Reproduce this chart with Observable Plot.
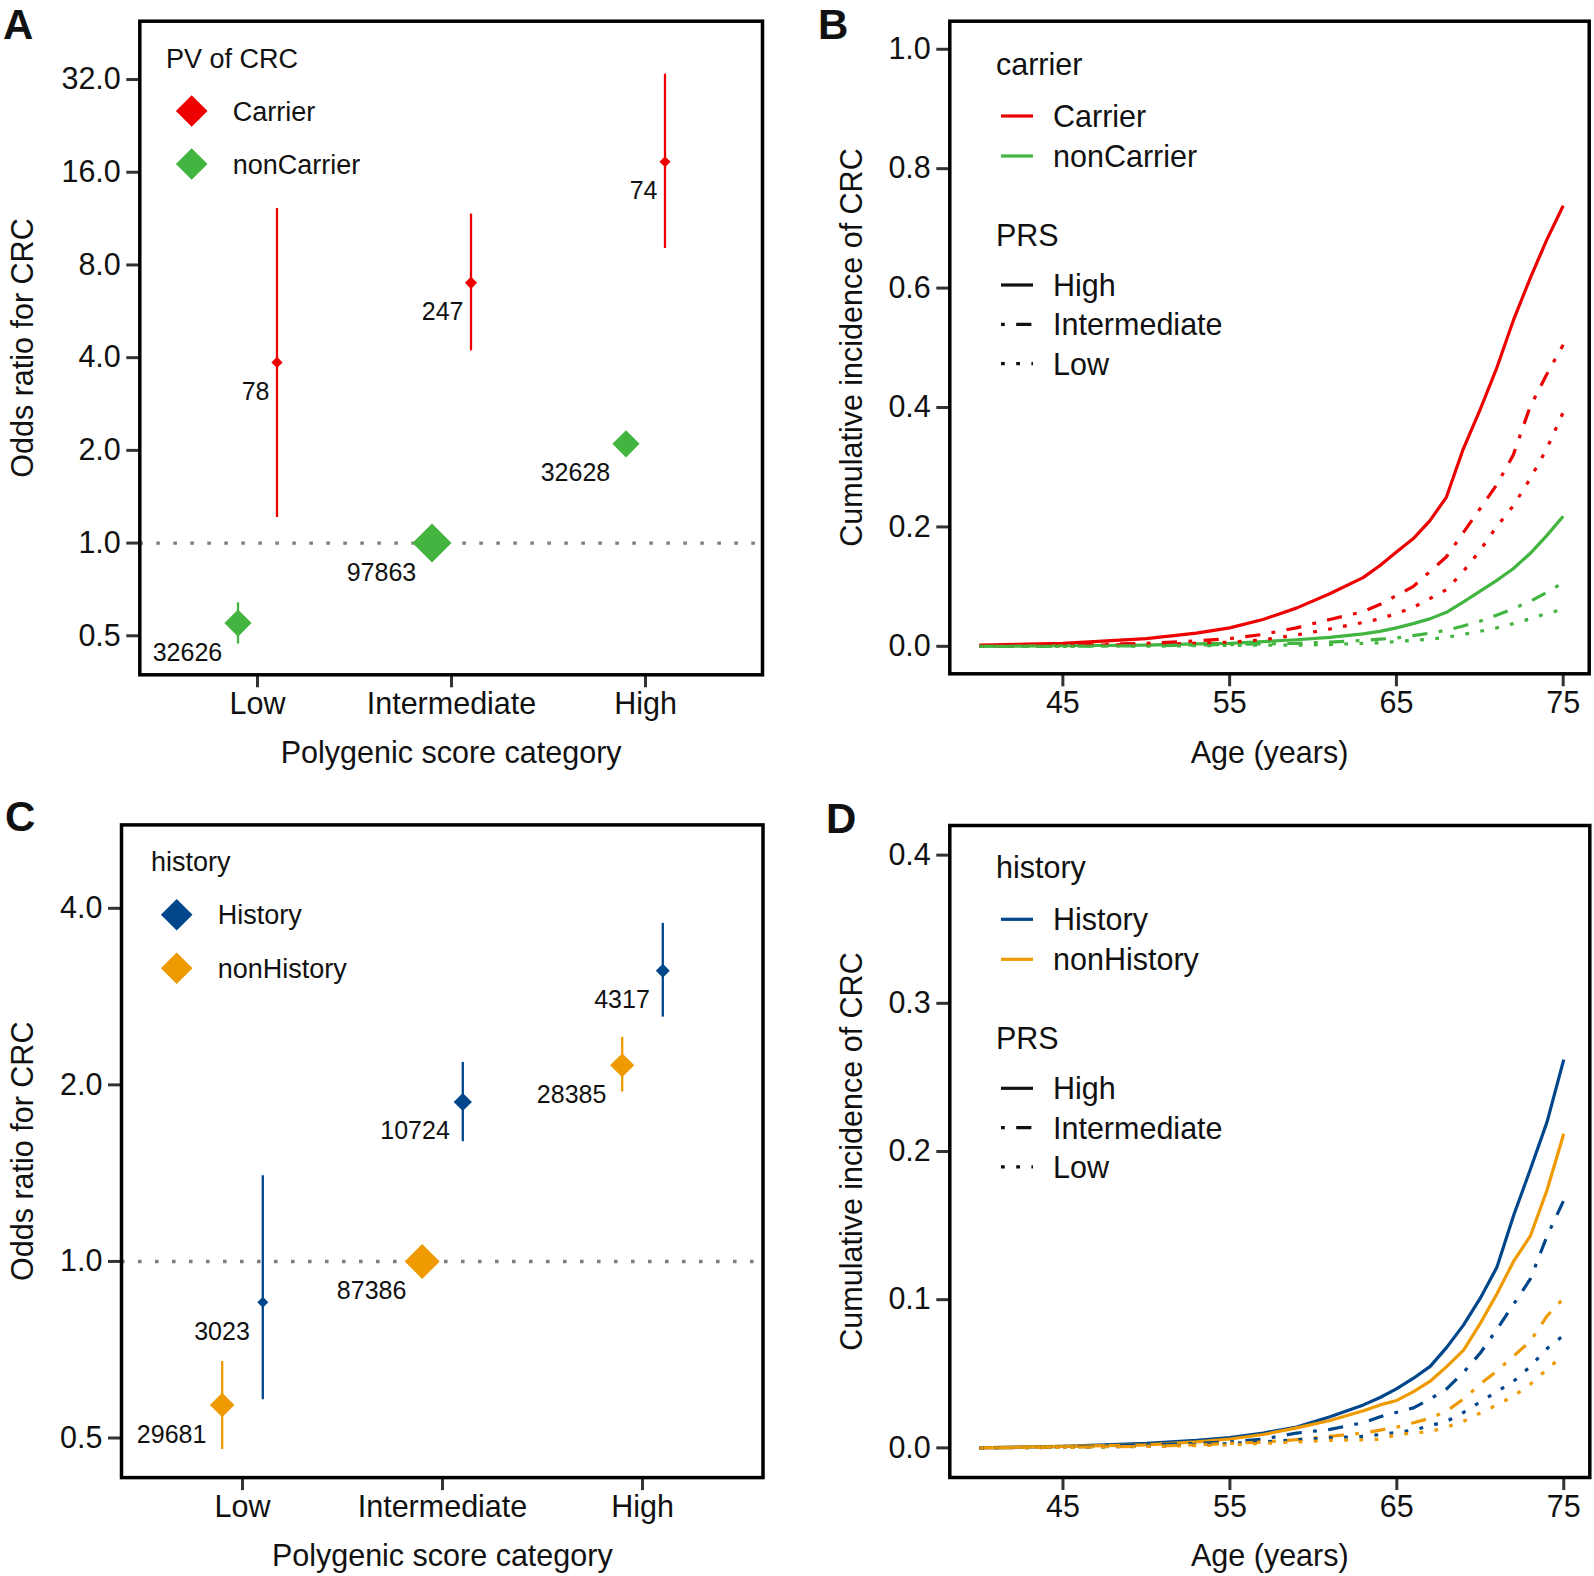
<!DOCTYPE html>
<html>
<head>
<meta charset="utf-8">
<script src="https://cdn.jsdelivr.net/npm/d3@7"></script>
<script src="https://cdn.jsdelivr.net/npm/@observablehq/plot@0.6"></script>
<style>
html, body { margin: 0; padding: 0; background: #fff; }
#page { position: relative; width: 1594px; height: 1576px; font-family: "Liberation Sans", Arial, Helvetica, sans-serif; }
.panel { position: absolute; }
#overlay { position: absolute; left: 0; top: 0; pointer-events: none; }
</style>
</head>
<body>
<div id="page"></div>
<script>
// ---------------- DATA ----------------
const categories = ["Low", "Intermediate", "High"];

// Panel A: odds ratios by PV carrier status
const pvGroups = ["Carrier", "nonCarrier"];
const carrierOR = [3.86, 7.0, 17.3];
const carrierLower = [1.21, 4.21, 9.05];
const carrierUpper = [12.2, 11.7, 33.3];
const carrierN = [78, 247, 74];
const nonCarrierOR = [0.55, 1.0, 2.1];
const nonCarrierLower = [0.47, null, 2.0];
const nonCarrierUpper = [0.64, null, 2.2];
const nonCarrierN = [32626, 97863, 32628];

// Panel C: odds ratios by family history
const historyGroups = ["History", "nonHistory"];
const historyOR = [0.852, 1.87, 3.13];
const historyLower = [0.581, 1.60, 2.61];
const historyUpper = [1.40, 2.185, 3.77];
const historyN = [3023, 10724, 4317];
const nonHistoryOR = [0.569, 1.0, 2.16];
const nonHistoryLower = [0.478, null, 1.945];
const nonHistoryUpper = [0.675, null, 2.41];
const nonHistoryN = [29681, 87386, 28385];

// Panels B and D: cumulative incidence by age
const prsLevels = ["High", "Intermediate", "Low"];
const ages = [40, 45, 50, 53, 55, 57, 59, 61, 63, 64, 65, 66, 67, 68, 69, 70, 71, 72, 73, 74, 75];
const carrierHigh     = [0.002, 0.005, 0.013, 0.022, 0.031, 0.045, 0.064, 0.088, 0.115, 0.135, 0.158, 0.18, 0.21, 0.25, 0.33, 0.395, 0.465, 0.545, 0.615, 0.68, 0.738];
const carrierInter    = [0.001, 0.002, 0.005, 0.009, 0.013, 0.020, 0.031, 0.045, 0.058, 0.070, 0.085, 0.100, 0.125, 0.150, 0.190, 0.230, 0.270, 0.320, 0.400, 0.455, 0.505];
const carrierLow      = [0, 0.001, 0.003, 0.005, 0.007, 0.011, 0.019, 0.029, 0.040, 0.046, 0.055, 0.065, 0.080, 0.095, 0.125, 0.160, 0.200, 0.235, 0.280, 0.330, 0.392];
const nonCarrierHigh  = [0, 0.001, 0.002, 0.004, 0.005, 0.008, 0.011, 0.015, 0.021, 0.025, 0.031, 0.038, 0.046, 0.057, 0.074, 0.092, 0.110, 0.130, 0.155, 0.185, 0.218];
const nonCarrierInter = [0, 0, 0.001, 0.002, 0.003, 0.004, 0.005, 0.007, 0.010, 0.012, 0.014, 0.018, 0.022, 0.027, 0.034, 0.042, 0.052, 0.063, 0.075, 0.090, 0.107];
const nonCarrierLow   = [0, 0, 0.0005, 0.001, 0.0015, 0.002, 0.002, 0.003, 0.005, 0.006, 0.008, 0.010, 0.012, 0.015, 0.020, 0.025, 0.031, 0.038, 0.046, 0.055, 0.062];

const historyHigh     = [0, 0.001, 0.003, 0.005, 0.007, 0.010, 0.014, 0.021, 0.029, 0.034, 0.040, 0.047, 0.055, 0.068, 0.083, 0.101, 0.122, 0.157, 0.188, 0.220, 0.262];
const nonHistoryHigh  = [0, 0.001, 0.002, 0.004, 0.006, 0.009, 0.0135, 0.0185, 0.025, 0.029, 0.032, 0.038, 0.045, 0.055, 0.066, 0.084, 0.104, 0.126, 0.143, 0.174, 0.212];
const historyInter    = [0, 0.0005, 0.002, 0.003, 0.004, 0.006, 0.010, 0.0125, 0.017, 0.021, 0.024, 0.027, 0.033, 0.040, 0.051, 0.064, 0.080, 0.097, 0.114, 0.143, 0.167];
const nonHistoryInter = [0, 0.0005, 0.001, 0.002, 0.003, 0.004, 0.0055, 0.0078, 0.010, 0.012, 0.014, 0.017, 0.020, 0.025, 0.033, 0.043, 0.052, 0.062, 0.072, 0.089, 0.101];
const historyLow      = [0, 0.0003, 0.001, 0.002, 0.003, 0.004, 0.0055, 0.0068, 0.0078, 0.009, 0.0105, 0.012, 0.015, 0.018, 0.024, 0.031, 0.038, 0.045, 0.055, 0.067, 0.076];
const nonHistoryLow   = [0, 0.0003, 0.001, 0.0015, 0.002, 0.003, 0.004, 0.005, 0.0055, 0.0058, 0.009, 0.010, 0.011, 0.014, 0.018, 0.0235, 0.029, 0.035, 0.043, 0.053, 0.063];

// ---------------- STYLE ----------------
const FONT = '"Liberation Sans", Arial, Helvetica, sans-serif';
const AXIS_FS = 30.5;
const COLORS = {Carrier: "#ED0000", nonCarrier: "#42B540", History: "#00468B", nonHistory: "#EE9A00"};
const DASH = {High: null, Intermediate: "3.8,11.4,15.2,11.4", Low: "3.8,11.4"};

function orRows(group, or, lo, hi, n) {
  return categories.map((c, i) => ({cat: c, group, or: or[i], lo: lo[i], hi: hi[i], n: n[i]}));
}
function curveRows(group, series) {
  const out = [];
  prsLevels.forEach((p, k) => ages.forEach((a, i) => out.push({age: a, value: series[k][i], group, prs: p})));
  return out;
}

function oddsPlot({rows, groups, dodge, labelDx, yDomain, yTicks, rRange, w, h, m, yLabelOffset, xLabelOffset}) {
  const minN = d3.min(rows, d => d.n), maxN = d3.max(rows, d => d.n);
  const marks = [Plot.ruleY([1], {stroke: "#7f7f7f", strokeWidth: 3.4, strokeDasharray: "3.6,13.4"})];
  groups.forEach((g, gi) => {
    const sub = rows.filter(d => d.group === g);
    const dx = gi === 0 ? dodge : -dodge;
    marks.push(
      Plot.ruleX(sub.filter(d => d.lo != null), {x: "cat", y1: "lo", y2: "hi", stroke: COLORS[g], strokeWidth: 2.3, dx}),
      Plot.dot(sub, {x: "cat", y: "or", r: d => Math.sqrt(d.n - minN), symbol: "diamond2", fill: COLORS[g], stroke: "none", dx}),
      Plot.text(sub, {x: "cat", y: "or", text: d => String(d.n), textAnchor: "end", dx: dx + labelDx[gi], dy: 29.5, fontSize: 25, fill: "#111"})
    );
  });
  marks.push(
    Plot.axisY({ticks: yTicks, tickFormat: d => d.toFixed(1), tickSize: 13, tickPadding: 6, fontSize: AXIS_FS, stroke: "#333", strokeWidth: 3, fill: "#111",
      label: "Odds ratio for CRC", labelAnchor: "center", labelOffset: yLabelOffset, labelArrow: "none"}),
    Plot.axisX({tickSize: 13, tickPadding: 5, fontSize: AXIS_FS, stroke: "#333", strokeWidth: 3, fill: "#111",
      label: "Polygenic score category", labelAnchor: "center", labelOffset: xLabelOffset, labelArrow: "none"}),
    Plot.frame({stroke: "#000", strokeWidth: 3.5})
  );
  return Plot.plot({
    width: w, height: h, marginLeft: m[0], marginRight: m[1], marginTop: m[2], marginBottom: m[3],
    style: {fontFamily: FONT, fontSize: AXIS_FS + "px", color: "#111", background: "transparent", overflow: "visible"},
    x: {type: "point", domain: categories, padding: 0.6},
    y: {type: "log", base: 2, domain: yDomain},
    r: {type: "linear", domain: [0, Math.sqrt(maxN - minN)], range: rRange},
    marks
  });
}

function incidencePlot({rows, groups, yDomain, yTicks, w, h, m, yLabelOffset, xLabelOffset}) {
  const marks = prsLevels.map(p => Plot.line(rows.filter(d => d.prs === p), {
    x: "age", y: "value", z: "group", stroke: "group", strokeWidth: 3.2,
    strokeDasharray: DASH[p], strokeLinecap: "butt", strokeLinejoin: "round"
  }));
  marks.push(
    Plot.axisY({ticks: yTicks, tickFormat: d => d.toFixed(1), tickSize: 13, tickPadding: 6, fontSize: AXIS_FS, stroke: "#333", strokeWidth: 3, fill: "#111",
      label: "Cumulative incidence of CRC", labelAnchor: "center", labelOffset: yLabelOffset, labelArrow: "none"}),
    Plot.axisX({ticks: [45, 55, 65, 75], tickFormat: d => String(d), tickSize: 13, tickPadding: 5, fontSize: AXIS_FS, stroke: "#333", strokeWidth: 3, fill: "#111",
      label: "Age (years)", labelAnchor: "center", labelOffset: xLabelOffset, labelArrow: "none"}),
    Plot.frame({stroke: "#000", strokeWidth: 3.5})
  );
  return Plot.plot({
    width: w, height: h, marginLeft: m[0], marginRight: m[1], marginTop: m[2], marginBottom: m[3],
    style: {fontFamily: FONT, fontSize: AXIS_FS + "px", color: "#111", background: "transparent", overflow: "visible"},
    x: {domain: [38.22, 76.56]},
    y: {domain: yDomain},
    color: {domain: groups, range: groups.map(g => COLORS[g])},
    marks
  });
}

// ---------------- BUILD ----------------
const page = document.getElementById("page");
function place(el, left, top) {
  const d = document.createElement("div");
  d.className = "panel"; d.style.left = left + "px"; d.style.top = top + "px";
  d.appendChild(el); page.appendChild(d);
}

const rowsA = [...orRows("Carrier", carrierOR, carrierLower, carrierUpper, carrierN),
               ...orRows("nonCarrier", nonCarrierOR, nonCarrierLower, nonCarrierUpper, nonCarrierN)];
place(oddsPlot({rows: rowsA, groups: pvGroups, dodge: 19.5, labelDx: [-7.5, -15.8],
  yDomain: [0.3735, 49.5], yTicks: [0.5, 1, 2, 4, 8, 16, 32], rRange: [4.95, 17.6],
  w: 790, h: 780, m: [139.3, 28, 20.7, 105.7], yLabelOffset: 128.8, xLabelOffset: 88.2}), 0, 0);

const rowsC = [...orRows("History", historyOR, historyLower, historyUpper, historyN),
               ...orRows("nonHistory", nonHistoryOR, nonHistoryLower, nonHistoryUpper, nonHistoryN)];
place(oddsPlot({rows: rowsC, groups: historyGroups, dodge: 20.3, labelDx: [-13, -15.8],
  yDomain: [0.428, 5.55], yTicks: [0.5, 1, 2, 4], rRange: [4.95, 15.77],
  w: 790, h: 796, m: [121, 27.5, 44.4, 98.9], yLabelOffset: 110.5, xLabelOffset: 88.5}), 0, 780);

const rowsB = [...curveRows("Carrier", [carrierHigh, carrierInter, carrierLow]),
               ...curveRows("nonCarrier", [nonCarrierHigh, nonCarrierInter, nonCarrierLow])];
place(incidencePlot({rows: rowsB, groups: pvGroups, yDomain: [-0.046, 1.047], yTicks: [0, 0.2, 0.4, 0.6, 0.8, 1.0],
  w: 804, h: 780, m: [159.3, 5.3, 20.7, 106.7], yLabelOffset: 109.6, xLabelOffset: 89.2}), 790, 0);

const rowsD = [...curveRows("History", [historyHigh, historyInter, historyLow]),
               ...curveRows("nonHistory", [nonHistoryHigh, nonHistoryInter, nonHistoryLow])];
place(incidencePlot({rows: rowsD, groups: historyGroups, yDomain: [-0.02, 0.42], yTicks: [0, 0.1, 0.2, 0.3, 0.4],
  w: 804, h: 796, m: [159.3, 4.7, 45, 99], yLabelOffset: 109.6, xLabelOffset: 88.6}), 790, 780);

// ---------------- LEGENDS & PANEL LETTERS (overlay) ----------------
const NS = "http://www.w3.org/2000/svg";
const ov = d3.select(page).append("svg").attr("id", "overlay").attr("width", 1594).attr("height", 1576)
  .attr("xmlns", NS).style("font-family", FONT);

function txt(x, y, s, size, weight) {
  ov.append("text").attr("x", x).attr("y", y).attr("font-size", size).attr("font-weight", weight || "normal")
    .attr("fill", "#111").text(s);
}
function diamond(cx, cy, hd, color) {
  ov.append("path").attr("d", `M${cx},${cy - hd}L${cx + hd},${cy}L${cx},${cy + hd}L${cx - hd},${cy}Z`).attr("fill", color);
}
function swatch(x1, x2, y, color, dash) {
  const l = ov.append("line").attr("x1", x1).attr("x2", x2).attr("y1", y).attr("y2", y)
    .attr("stroke", color).attr("stroke-width", 3.2).attr("stroke-linecap", "butt");
  if (dash) l.attr("stroke-dasharray", dash);
}

// panel letters
txt(3, 39, "A", 42, "bold");
txt(818, 39, "B", 42, "bold");
txt(5, 831, "C", 42, "bold");
txt(826, 833, "D", 42, "bold");

// legend A
txt(166, 68.3, "PV of CRC", 27);
pvGroups.forEach((g, i) => {
  const cy = 111 + i * 53;
  diamond(191.7, cy, 15.8, COLORS[g]);
  txt(232.7, cy + 9.7, g, 27);
});
// legend C
txt(151, 871, "history", 27);
historyGroups.forEach((g, i) => {
  const cy = 914.7 + i * 53.6;
  diamond(176.7, cy, 15.8, COLORS[g]);
  txt(217.7, cy + 9.7, g, 27);
});
// legends B and D
function lineLegend(offY, title, groups) {
  txt(996, 75 + offY, title, AXIS_FS);
  groups.forEach((g, i) => {
    const cy = 116 + i * 40 + offY;
    swatch(1001, 1033, cy, COLORS[g], null);
    txt(1053, cy + 11, g, AXIS_FS);
  });
  txt(996, 245.7 + offY, "PRS", AXIS_FS);
  prsLevels.forEach((p, i) => {
    const cy = 285 + i * 39.3 + offY;
    swatch(1001, 1033, cy, "#111", DASH[p]);
    txt(1053, cy + 11, p, AXIS_FS);
  });
}
lineLegend(0, "carrier", pvGroups);
lineLegend(803.3, "history", historyGroups);
</script>
</body>
</html>
